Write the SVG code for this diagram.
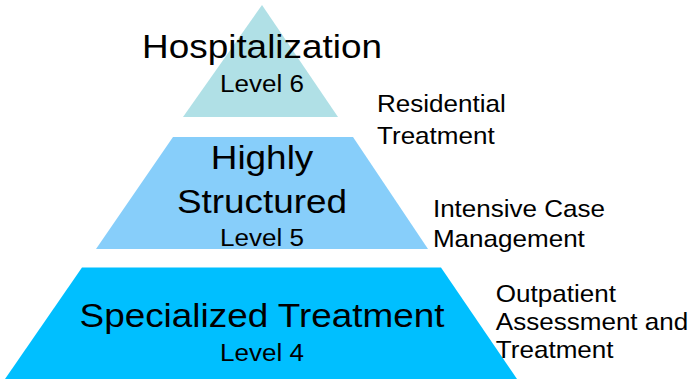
<svg xmlns="http://www.w3.org/2000/svg" width="695" height="379" viewBox="0 0 695 379">
<style>
text{font-family:"Liberation Sans",Arial,sans-serif;fill:#000}
.big{font-size:34px;text-anchor:middle}
.lvl{font-size:24px;text-anchor:middle}
.side{font-size:24px}
</style>
<rect width="695" height="379" fill="#fff"/>
<g id="level6">
<polygon points="262,5 338,117 183,117" fill="#b0e0e6"/>
<g transform="scale(1.085,1)">
<text class="big" x="241.5" y="58">Hospitalization</text>
<text class="lvl" x="241.5" y="92">Level 6</text>
</g>
</g>
<g id="level5">
<polygon points="173,137 353,137 428,249 96,249" fill="#87cefa"/>
<g transform="scale(1.085,1)">
<text class="big" x="241.5" y="169">Highly</text>
<text class="big" x="241.5" y="213">Structured</text>
<text class="lvl" x="241.5" y="246">Level 5</text>
</g>
</g>
<g id="level4">
<polygon points="82,267.5 441,267.5 517,379 5,379" fill="#00bfff"/>
<g transform="scale(1.085,1)">
<text class="big" x="241.5" y="327">Specialized Treatment</text>
<text class="lvl" x="241.5" y="361.5">Level 4</text>
</g>
</g>
<g id="label-residential" transform="scale(1.085,1)">
<text class="side" x="347.5" y="112">Residential</text>
<text class="side" x="347.5" y="144">Treatment</text>
</g>
<g id="label-intensive" transform="scale(1.085,1)">
<text class="side" x="399" y="217">Intensive Case</text>
<text class="side" x="399" y="247">Management</text>
</g>
<g id="label-outpatient" transform="scale(1.085,1)">
<text class="side" x="457" y="302">Outpatient</text>
<text class="side" x="457" y="330">Assessment and</text>
<text class="side" x="457" y="358">Treatment</text>
</g>
<g id="connectors"/>
</svg>
